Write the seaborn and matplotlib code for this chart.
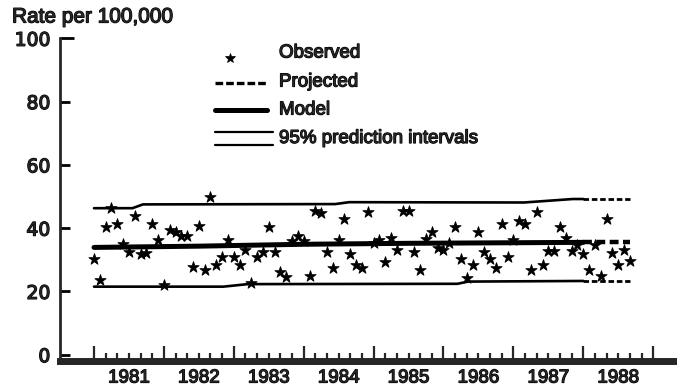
import numpy as np
import pandas as pd
import matplotlib
matplotlib.use("Agg")
import matplotlib.pyplot as plt
import matplotlib.patheffects as pe
import matplotlib.transforms as mtransforms
from matplotlib.lines import Line2D
import seaborn as sns

# ---------------- data ----------------
start_year = 1981
observed = [30.1, 23.6, 40.3, 46.4, 41.3, 35.1, 32.4, 43.9, 31.7, 32.2, 41.3, 36.1,
            21.9, 39.5, 38.7, 37.4, 37.6, 27.6, 40.6, 26.7, 49.8, 28.5, 30.8, 36.1,
            30.8, 28.5, 33.2, 22.5, 30.8, 32.4, 40.3, 32.4, 26.1, 24.5, 35.9, 37.4,
            35.9, 25.0, 45.3, 44.8, 32.4, 27.5, 36.1, 42.9, 31.7, 28.5, 27.5, 45.0,
            35.3, 36.1, 29.2, 36.9, 33.2, 45.3, 45.5, 32.4, 26.7, 36.6, 38.8, 33.8,
            33.0, 35.3, 40.4, 30.3, 24.3, 28.5, 38.7, 32.4, 30.1, 27.5, 41.3, 30.8,
            36.1, 42.1, 41.3, 26.7, 45.0, 28.5, 32.7, 32.7, 40.4, 36.9, 32.7, 34.8,
            31.7, 26.9, 34.8, 24.8, 42.9, 32.2, 28.5, 33.0, 29.5]
year_labels = [1981, 1982, 1983, 1984, 1985, 1986, 1987, 1988]

upper_years = [1981.0, 1981.55, 1981.7, 1984.45, 1984.65, 1987.15, 1987.85, 1988.0]
upper_vals = [46.3, 46.3, 47.5, 47.6, 48.2, 48.1, 49.2, 49.2]
model_years = [1981.0, 1982.5, 1984.0, 1985.5, 1988.0]
model_vals = [33.9, 34.3, 34.9, 35.2, 35.5]
lower_years = [1981.0, 1982.85, 1983.2, 1986.2, 1986.35, 1988.0]
lower_vals = [21.5, 21.5, 22.3, 22.4, 23.1, 23.3]
proj_years = [1988.0, 1988.667]
proj_upper = [49.2, 49.2]
proj_model = [35.6, 35.6]
proj_lower = [23.4, 23.4]

obs_df = pd.DataFrame({"t": start_year + np.arange(len(observed)) / 12.0,
                       "rate": observed})

# ---------------- style ----------------
sns.set_style("ticks")
plt.rcParams['font.family'] = ['Liberation Sans', 'DejaVu Sans']
FS = 13.5
thick = [pe.withStroke(linewidth=0.9, foreground="black")]

W, H = 677, 389
fig = plt.figure(figsize=(W / 100, H / 100), dpi=100)
ax = fig.add_axes([60 / W, 1 - 361 / H, 617 / W, (361 - 38.3) / H])

# lines
sns.lineplot(x=upper_years, y=upper_vals, ax=ax, color="black", lw=1.9)
sns.lineplot(x=lower_years, y=lower_vals, ax=ax, color="black", lw=1.9)
sns.lineplot(x=model_years, y=model_vals, ax=ax, color="black", lw=3.6)
for vals, lw in [(proj_upper, 2.0), (proj_model, 3.2), (proj_lower, 2.0)]:
    sns.lineplot(x=proj_years, y=vals, ax=ax, color="black", lw=lw,
                 dashes=False, linestyle=(0, (2.0, 1.0)))

# observed stars
sns.scatterplot(data=obs_df, x="t", y="rate", ax=ax, marker="*", s=72,
                color="black", edgecolor="black", linewidth=0.6, zorder=5)

# axes
ax.set_xlim(1981 + (60 - 94) / 69.9, 1981 + (677 - 94) / 69.9)
ax.set_ylim(-2, 100)
ax.set_xlabel("")
ax.set_ylabel("")
for s in ["top", "right"]:
    ax.spines[s].set_visible(False)
ax.spines["left"].set_linewidth(2.0)
ax.spines["bottom"].set_linewidth(5.0)
ax.spines["left"].set_bounds(-2, 100)

ax.set_yticks([0, 20, 40, 60, 80, 100])
ax.set_yticklabels(["0", "20", "40", "60", "80", "100"])
ax.tick_params(axis="y", direction="in", length=7.5, width=2.0, pad=7,
               labelsize=FS, color="black")
for lab in ax.get_yticklabels():
    lab.set_family(["DejaVu Sans"])
    lab.set_path_effects(thick)
ax.yaxis.get_major_ticks()[-1].tick1line.set_markersize(10)

major = [start_year + k for k in range(len(year_labels) + 1)]
minor = [y + m / 6 for y in major[:-1] for m in range(1, 6)]
ax.set_xticks(major)
ax.set_xticks(minor, minor=True)
ax.set_xticklabels([])
ax.tick_params(axis="x", which="major", direction="in", length=10.5, width=1.6)
ax.tick_params(axis="x", which="minor", direction="in", length=5.5, width=1.6)

trans = mtransforms.blended_transform_factory(ax.transData, ax.transAxes)
for y in year_labels:
    ax.text(y + 0.5, -17 / 322.7, str(y), transform=trans, ha="center",
            va="center", fontsize=FS, path_effects=thick)

fig.text(12 / W, 1 - 17 / H, "Rate per 100,000", ha="left", va="center",
         fontsize=15, path_effects=thick)

# legend (figure pixel coordinates)
def px(x, y):
    return x / W, 1 - y / H

def add_line(x0, x1, y, **kw):
    (a, b), (c, d) = px(x0, y), px(x1, y)
    fig.add_artist(Line2D([a, c], [b, d], color="black", **kw))

mx, my = px(230, 58)
fig.add_artist(Line2D([mx], [my], marker="*", markersize=7.5, color="black",
                      markeredgewidth=0.5, linestyle="none"))
add_line(215, 267, 83.3, lw=2.4, linestyle=(0, (2.3, 0.9)))
add_line(215, 267, 110, lw=3.6)
add_line(215, 273, 131.7, lw=1.6)
add_line(215, 273, 145, lw=1.6)
for txt, y in [("Observed", 53), ("Projected", 82), ("Model", 110),
               ("95% prediction intervals", 138.5)]:
    tx, ty = px(279, y)
    fig.text(tx, ty, txt, ha="left", va="center", fontsize=FS, path_effects=thick)

fig.savefig("out.png", dpi=100)
